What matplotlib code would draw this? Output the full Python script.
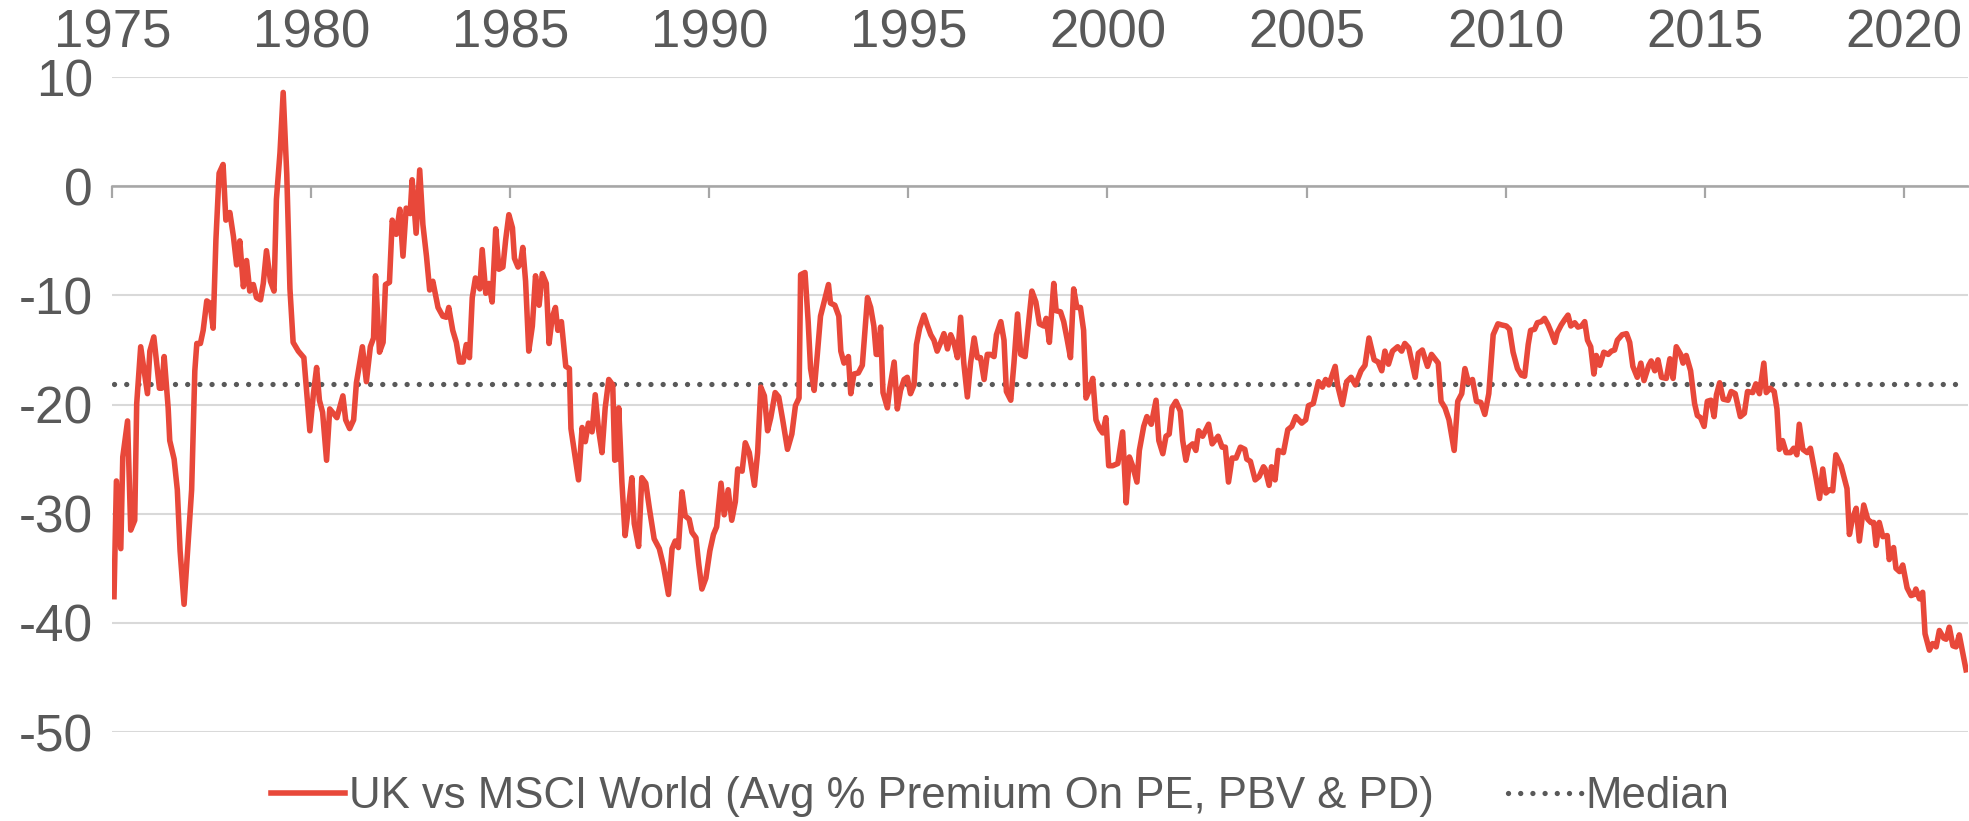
import matplotlib
matplotlib.use("Agg")
import matplotlib.pyplot as plt

# Ось X: дата в долях года, ось Y: средняя премия UK к MSCI World, %
dates = [
    1975.04, 1975.10, 1975.21, 1975.26, 1975.38, 1975.46, 1975.56, 1975.61, 1975.71, 1975.88,
    1975.94, 1976.04, 1976.18, 1976.24, 1976.30, 1976.40, 1976.44, 1976.55, 1976.63, 1976.70,
    1976.80, 1976.91, 1976.99, 1977.07, 1977.12, 1977.21, 1977.28, 1977.37, 1977.45, 1977.53,
    1977.60, 1977.68, 1977.78, 1977.85, 1977.95, 1978.04, 1978.12, 1978.20, 1978.29, 1978.37,
    1978.45, 1978.54, 1978.62, 1978.72, 1978.79, 1978.87, 1978.97, 1979.06, 1979.12, 1979.21,
    1979.29, 1979.38, 1979.46, 1979.54, 1979.67, 1979.81, 1979.88, 1979.96, 1980.05, 1980.13,
    1980.20, 1980.28, 1980.38, 1980.46,
    1980.64, 1980.79, 1980.86, 1980.96, 1981.06, 1981.13, 1981.28, 1981.38, 1981.48, 1981.56,
    1981.61, 1981.71, 1981.80, 1981.86, 1981.96, 1982.03, 1982.13, 1982.22, 1982.30, 1982.38,
    1982.48, 1982.53, 1982.63, 1982.72, 1982.80, 1982.89, 1982.97, 1983.05, 1983.18, 1983.30,
    1983.39, 1983.45, 1983.55, 1983.64, 1983.72, 1983.81, 1983.89, 1983.97, 1984.04, 1984.12,
    1984.23, 1984.29, 1984.38, 1984.46, 1984.54, 1984.63, 1984.71, 1984.81, 1984.88, 1984.96,
    1985.05, 1985.10, 1985.19, 1985.25, 1985.31, 1985.38, 1985.46, 1985.55, 1985.63, 1985.72,
    1985.80, 1985.90, 1985.97, 1986.05, 1986.13, 1986.19, 1986.28,
    1986.39, 1986.48, 1986.52, 1986.71, 1986.80, 1986.88, 1986.96, 1987.05, 1987.13, 1987.21,
    1987.30, 1987.38, 1987.47, 1987.57, 1987.62, 1987.67, 1987.72, 1987.80, 1987.88, 1987.97,
    1988.05, 1988.11, 1988.22, 1988.30, 1988.40, 1988.49, 1988.61, 1988.74, 1988.84, 1988.97,
    1989.06, 1989.14, 1989.22, 1989.31, 1989.39, 1989.49, 1989.56, 1989.66, 1989.73, 1989.81,
    1989.91, 1990.01, 1990.10, 1990.18, 1990.29, 1990.37, 1990.47, 1990.56, 1990.65, 1990.71,
    1990.82, 1990.90, 1991.00, 1991.13, 1991.21, 1991.29, 1991.38, 1991.46, 1991.54, 1991.65,
    1991.74, 1991.84, 1991.96, 1992.07, 1992.16,
    1992.25, 1992.29, 1992.40, 1992.48, 1992.54, 1992.63, 1992.71, 1992.79, 1992.88, 1992.99,
    1993.04, 1993.15, 1993.25, 1993.30, 1993.38, 1993.49, 1993.55, 1993.63, 1993.74, 1993.84,
    1993.97, 1994.05, 1994.13, 1994.19, 1994.24, 1994.30, 1994.36, 1994.47, 1994.53, 1994.64,
    1994.72, 1994.80, 1994.89, 1994.97, 1995.05, 1995.14, 1995.20, 1995.28, 1995.39, 1995.47,
    1995.56, 1995.64, 1995.72, 1995.81, 1995.89, 1995.98, 1996.06, 1996.14, 1996.23, 1996.31,
    1996.39, 1996.48, 1996.56, 1996.65, 1996.73, 1996.81, 1996.90, 1996.98, 1997.06, 1997.15,
    1997.21, 1997.32, 1997.40, 1997.46, 1997.57, 1997.65, 1997.74, 1997.82, 1997.93,
    1998.10, 1998.20, 1998.29, 1998.40, 1998.46, 1998.54, 1998.65, 1998.71, 1998.82, 1998.90,
    1998.98, 1999.07, 1999.15, 1999.23, 1999.32, 1999.40, 1999.46, 1999.54, 1999.63, 1999.71,
    1999.80, 1999.88, 1999.96, 2000.03, 2000.13, 2000.26, 2000.38, 2000.47, 2000.55, 2000.63,
    2000.74, 2000.80, 2000.91, 2000.99, 2001.10, 2001.22, 2001.29, 2001.39, 2001.47, 2001.55,
    2001.62, 2001.72, 2001.83, 2001.89, 2001.97, 2002.04, 2002.14, 2002.22, 2002.29, 2002.39,
    2002.54, 2002.63, 2002.78, 2002.88, 2002.96, 2003.04, 2003.13, 2003.23, 2003.34, 2003.45,
    2003.50, 2003.59, 2003.71, 2003.81, 2003.92,
    2003.96, 2004.06, 2004.12, 2004.21, 2004.29, 2004.42, 2004.53, 2004.63, 2004.73, 2004.88,
    2004.98, 2005.05, 2005.17, 2005.30, 2005.40, 2005.48, 2005.56, 2005.72, 2005.78, 2005.90,
    2006.01, 2006.12, 2006.23, 2006.37, 2006.47, 2006.57, 2006.70, 2006.80, 2006.89, 2006.97,
    2007.06, 2007.16, 2007.29, 2007.39, 2007.47, 2007.57, 2007.73, 2007.81, 2007.91, 2008.04,
    2008.14, 2008.31, 2008.38, 2008.48, 2008.58, 2008.71, 2008.80, 2008.90, 2008.98, 2009.07,
    2009.17, 2009.27, 2009.38, 2009.48, 2009.58, 2009.69,
    2009.81, 2009.90, 2010.02, 2010.10, 2010.19, 2010.30, 2010.40, 2010.48, 2010.57, 2010.63,
    2010.73, 2010.80, 2010.90, 2010.98, 2011.07, 2011.15, 2011.24, 2011.30, 2011.40, 2011.49,
    2011.57, 2011.64, 2011.74, 2011.82, 2011.91, 2011.99, 2012.06, 2012.14, 2012.22, 2012.28,
    2012.37, 2012.47, 2012.58, 2012.66, 2012.74, 2012.81, 2012.93, 2013.04, 2013.12, 2013.20,
    2013.31, 2013.40, 2013.48, 2013.60, 2013.66, 2013.75, 2013.83, 2013.92, 2014.04, 2014.13,
    2014.21, 2014.29, 2014.40, 2014.46, 2014.54, 2014.65, 2014.75, 2014.82, 2014.90, 2014.99,
    2015.07, 2015.16, 2015.24, 2015.30, 2015.38, 2015.47, 2015.59,
    2015.67, 2015.77, 2015.90, 2016.00, 2016.08, 2016.21, 2016.29, 2016.38, 2016.49, 2016.55,
    2016.65, 2016.75, 2016.82, 2016.88, 2016.96, 2017.05, 2017.16, 2017.24, 2017.32, 2017.38,
    2017.47, 2017.58, 2017.66, 2017.80, 2017.89, 2017.97, 2018.05, 2018.14, 2018.22, 2018.30,
    2018.43, 2018.58, 2018.64, 2018.72, 2018.81, 2018.89, 2019.00, 2019.10, 2019.18, 2019.25,
    2019.31, 2019.39, 2019.48, 2019.59, 2019.64, 2019.75, 2019.81, 2019.90, 2019.98, 2020.09,
    2020.19, 2020.26, 2020.31, 2020.40, 2020.48, 2020.54, 2020.65, 2020.73, 2020.82, 2020.90,
    2021.01, 2021.07, 2021.15, 2021.24, 2021.32, 2021.40, 2021.57,
]

premium = [
    -37.6, -27.0, -33.2, -24.8, -21.5, -31.5, -30.6, -19.9, -14.7, -19.0,
    -15.1, -13.8, -18.5, -18.5, -15.6, -20.3, -23.3, -25.0, -27.8, -33.4,
    -38.3, -32.3, -27.8, -16.9, -14.4, -14.4, -13.2, -10.5, -10.7, -13.0,
    -4.9, 1.2, 2.0, -3.1, -2.4, -4.6, -7.2, -5.0, -9.2, -6.8,
    -9.6, -9.0, -10.2, -10.4, -8.9, -5.9, -8.7, -9.6, -1.2, 3.1,
    8.6, 1.1, -9.4, -14.3, -15.1, -15.7, -18.8, -22.4, -19.0, -16.6,
    -19.6, -20.7, -25.1, -20.4,
    -21.2, -19.2, -21.4, -22.2, -21.4, -18.0, -14.7, -17.9, -14.7, -13.9,
    -8.2, -15.2, -14.3, -9.0, -8.8, -3.1, -4.4, -2.1, -6.4, -2.0,
    -2.5, 0.6, -4.3, 1.5, -3.5, -6.4, -9.5, -8.7, -11.1, -11.9,
    -12.0, -11.1, -13.2, -14.3, -16.1, -16.1, -14.5, -15.7, -10.2, -8.4,
    -9.4, -5.8, -9.8, -8.9, -10.6, -3.9, -7.6, -7.4, -4.9, -2.6,
    -3.8, -6.6, -7.4, -7.1, -5.6, -8.7, -15.1, -12.8, -8.2, -10.9,
    -8.0, -8.9, -14.4, -12.0, -11.1, -13.2, -12.4,
    -16.5, -16.7, -22.2, -26.9, -22.1, -23.4, -21.7, -22.5, -19.1, -22.2,
    -24.4, -20.3, -17.7, -18.2, -25.1, -25.0, -20.3, -27.1, -32.0, -29.3,
    -26.7, -30.9, -33.0, -26.7, -27.2, -29.5, -32.3, -33.2, -34.7, -37.4,
    -33.2, -32.5, -33.1, -28.0, -30.2, -30.5, -31.7, -32.2, -34.6, -36.9,
    -35.9, -33.4, -31.9, -31.2, -27.2, -30.1, -27.8, -30.6, -28.9, -25.9,
    -26.1, -23.5, -24.4, -27.4, -24.4, -18.4, -19.2, -22.4, -21.2, -18.9,
    -19.3, -21.4, -24.1, -22.7, -20.1,
    -19.4, -8.1, -7.9, -12.4, -16.7, -18.7, -15.4, -11.9, -10.6, -9.0,
    -10.7, -10.9, -11.9, -15.1, -16.2, -15.6, -19.0, -17.2, -17.1, -16.4,
    -10.2, -11.1, -12.8, -15.4, -15.4, -12.9, -18.9, -20.3, -18.5, -16.1,
    -20.4, -18.7, -17.7, -17.5, -19.0, -18.2, -14.5, -13.0, -11.8, -12.7,
    -13.6, -14.1, -15.1, -14.3, -13.5, -14.9, -13.6, -14.3, -15.7, -12.0,
    -16.2, -19.3, -16.2, -13.9, -15.7, -15.7, -17.7, -15.4, -15.4, -15.6,
    -13.6, -12.4, -14.1, -18.8, -19.6, -16.2, -11.7, -15.4, -15.6,
    -9.6, -10.6, -12.6, -12.8, -12.1, -14.3, -8.9, -11.4, -11.5, -12.4,
    -13.9, -15.7, -9.4, -11.1, -11.1, -13.2, -19.4, -18.7, -17.6, -21.4,
    -22.2, -22.6, -21.2, -25.6, -25.6, -25.4, -22.5, -29.0, -24.8, -25.6,
    -27.1, -24.2, -22.0, -21.1, -21.8, -19.6, -23.3, -24.5, -22.9, -22.7,
    -20.3, -19.7, -20.6, -23.3, -25.1, -23.9, -23.6, -24.2, -22.4, -22.9,
    -21.8, -23.6, -22.9, -23.9, -23.9, -27.1, -24.9, -24.9, -23.9, -24.1,
    -25.0, -25.2, -26.9, -26.6, -25.7,
    -25.9, -27.4, -25.7, -26.9, -24.2, -24.4, -22.3, -22.0, -21.1, -21.7,
    -21.4, -20.1, -19.9, -17.9, -18.4, -17.7, -18.2, -16.5, -18.2, -20.0,
    -17.9, -17.5, -18.2, -16.9, -16.4, -13.9, -15.9, -16.1, -16.9, -15.1,
    -16.3, -15.1, -14.7, -15.1, -14.4, -14.8, -17.5, -15.3, -15.0, -16.5,
    -15.4, -16.2, -19.7, -20.3, -21.4, -24.2, -19.7, -19.0, -16.7, -18.0,
    -17.7, -19.7, -19.8, -20.9, -19.0, -13.6,
    -12.6, -12.7, -12.8, -13.1, -15.2, -16.7, -17.3, -17.4, -14.5, -13.2,
    -13.1, -12.5, -12.4, -12.1, -12.7, -13.4, -14.3, -13.4, -12.7, -12.2,
    -11.8, -12.8, -12.5, -12.9, -12.8, -12.4, -14.1, -14.7, -17.2, -15.5,
    -16.4, -15.2, -15.4, -15.1, -15.0, -14.1, -13.6, -13.5, -14.3, -16.5,
    -17.5, -16.2, -17.8, -16.4, -16.0, -16.9, -15.9, -17.5, -17.6, -15.8,
    -17.6, -14.7, -15.4, -16.2, -15.5, -16.9, -19.9, -21.0, -21.2, -22.0,
    -19.7, -19.6, -21.1, -19.1, -18.0, -19.5, -19.6,
    -18.8, -19.0, -21.1, -20.8, -18.8, -18.9, -18.1, -19.0, -16.2, -18.9,
    -18.5, -18.8, -20.4, -24.1, -23.3, -24.4, -24.4, -24.0, -24.6, -21.8,
    -24.1, -24.4, -24.0, -26.7, -28.6, -25.9, -28.1, -27.8, -27.9, -24.6,
    -25.6, -27.7, -31.9, -30.4, -29.5, -32.5, -29.2, -30.5, -30.8, -30.8,
    -32.9, -30.8, -32.1, -32.0, -34.2, -33.1, -35.0, -35.3, -34.7, -36.8,
    -37.5, -37.4, -36.9, -37.8, -37.2, -41.0, -42.5, -41.9, -42.2, -40.7,
    -41.4, -41.5, -40.4, -42.1, -42.2, -41.1, -44.3,
]

median_value = -18.1
year_ticks = [1975, 1980, 1985, 1990, 1995, 2000, 2005, 2010, 2015, 2020]
value_ticks = [-50, -40, -30, -20, -10, 0, 10]

RED = "#E8483A"
TEXT = "#595959"
GRID = "#D9D9D9"
AXIS = "#A6A6A6"

plt.rcParams["font.family"] = ["Liberation Sans", "DejaVu Sans"]

fig = plt.figure(figsize=(19.69, 8.21), dpi=100)
ax = fig.add_axes([0.0571, 0.1084, 0.9422, 0.7976])

ax.plot(dates, premium, color=RED, lw=4.0, solid_joinstyle="round",
        label="UK vs MSCI World (Avg % Premium On PE, PBV & PD)", zorder=3)
ax.plot([dates[0], dates[-1]], [median_value, median_value], color=TEXT, lw=3.8,
        linestyle=(0, (0.01, 2.3)), dash_capstyle="round", label="Median", zorder=2)

ax.set_xlim(1975, 2021.61)
ax.set_ylim(-50, 10)
ax.set_xticks(year_ticks)
ax.set_xticklabels([str(y) for y in year_ticks])
ax.set_yticks(value_ticks)
ax.set_yticklabels([str(v) for v in value_ticks])

# сетка и оси
ax.grid(axis="y", color=GRID, lw=1.5, zorder=0)
ax.set_axisbelow(True)
for side in ["left", "right", "top"]:
    ax.spines[side].set_visible(False)
ax.spines["bottom"].set_position(("data", 0))
ax.spines["bottom"].set_color(AXIS)
ax.spines["bottom"].set_linewidth(1.8)

ax.tick_params(axis="x", bottom=True, top=False, labelbottom=False, labeltop=True,
               direction="out", length=8.6, width=1.6, color=AXIS,
               labelsize=38, labelcolor=TEXT, pad=5)
ax.tick_params(axis="y", length=0, pad=14, labelsize=37, labelcolor=TEXT)

ax.legend(loc="center", bbox_to_anchor=(0.508, 0.03), bbox_transform=fig.transFigure,
          ncol=2, frameon=False, fontsize=31.5, labelcolor=TEXT, handlelength=1.7,
          handletextpad=0.08, columnspacing=1.7, borderpad=0)

fig.savefig("out.png", dpi=100)
